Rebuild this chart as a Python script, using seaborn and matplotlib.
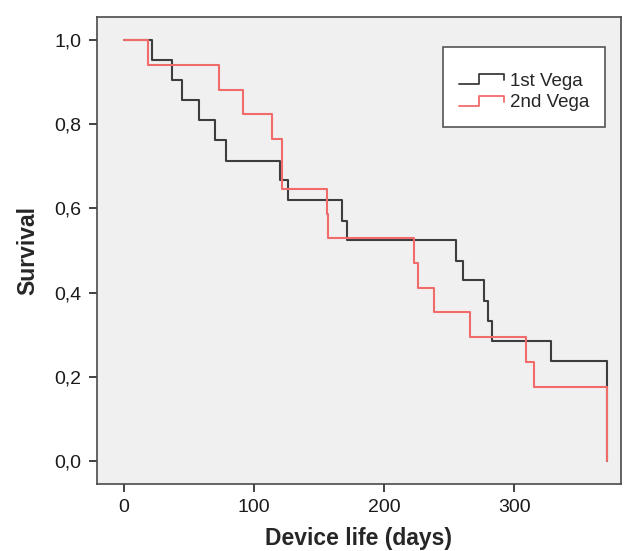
import numpy as np
import pandas as pd
import seaborn as sns
import matplotlib.pyplot as plt
from matplotlib.lines import Line2D
from matplotlib.legend_handler import HandlerBase
from matplotlib.ticker import FuncFormatter

# Kaplan-Meier steps (days, survival)
black_days = [0, 22, 37, 45, 58, 70, 78.5, 120, 126, 167.5, 171.5, 255.5, 261, 276.5, 280, 283, 328, 371.5]
black_surv = [1.0, 0.952, 0.905, 0.857, 0.810, 0.762, 0.714, 0.667, 0.619, 0.571, 0.524, 0.476, 0.429, 0.381, 0.333, 0.286, 0.238, 0.0]

red_days = [0, 19, 73, 91.5, 114, 121.5, 156, 157, 223, 226, 238.5, 266, 309, 315, 371.5]
red_surv = [1.0, 0.941, 0.882, 0.824, 0.765, 0.647, 0.588, 0.529, 0.471, 0.412, 0.353, 0.294, 0.235, 0.176, 0.0]

groups = ["1st Vega", "2nd Vega"]
colors = {"1st Vega": "#3d3d3d", "2nd Vega": "#f26b6b"}

df = pd.concat([
    pd.DataFrame({"days": black_days, "survival": black_surv, "group": groups[0]}),
    pd.DataFrame({"days": red_days, "survival": red_surv, "group": groups[1]}),
], ignore_index=True)

sns.set_style("white")
plt.rcParams["font.family"] = ["Liberation Sans", "DejaVu Sans"]

fig = plt.figure(figsize=(6.31, 5.51), dpi=100)
ax = fig.add_axes([0.1537, 0.1216, 0.8303, 0.8474])
ax.set_facecolor("#f0f0f0")

sns.lineplot(data=df, x="days", y="survival", hue="group", hue_order=groups,
             palette=colors, estimator=None, drawstyle="steps-post",
             linewidth=1.5, legend=False, ax=ax)

ax.set_xlim(-20.5, 382)
ax.set_ylim(-0.055, 1.055)
ax.set_xticks([0, 100, 200, 300])
ax.set_yticks([0, 0.2, 0.4, 0.6, 0.8, 1.0])
ax.yaxis.set_major_formatter(FuncFormatter(lambda v, p: f"{v:.1f}".replace(".", ",")))

for s in ax.spines.values():
    s.set_color("#4a4a4a")
    s.set_linewidth(1.2)
ax.tick_params(direction="out", length=6, width=1.3, color="#333333",
               labelsize=14, labelcolor="#1a1a1a", pad=5,
               left=True, bottom=True)

ax.set_xlabel("Device life (days)", fontsize=16.5, fontweight="bold", labelpad=8)
ax.set_ylabel("Survival", fontsize=16.5, fontweight="bold", labelpad=11)


class StepHandler(HandlerBase):
    # SPSS-style little step icon in the legend
    def create_artists(self, legend, orig_handle, xdescent, ydescent,
                       width, height, fontsize, trans):
        xs = np.array([0, 0.45, 0.45, 1.0, 1.0]) * width - xdescent
        ys = np.array([0.1, 0.1, 0.85, 0.85, 0.4]) * height - ydescent
        ln = Line2D(xs, ys, color=orig_handle.get_color(), lw=1.3, transform=trans)
        return [ln]


handles = [Line2D([], [], color=colors[g]) for g in groups]
# blank title just pushes the entries a bit lower in the box, like SPSS does
leg = ax.legend(handles, groups, handler_map={Line2D: StepHandler()},
                loc="upper right", bbox_to_anchor=(0.97, 0.935),
                title=" ", title_fontsize=4,
                fontsize=13.5, frameon=True, fancybox=False,
                borderpad=0.85, handlelength=2.4, handletextpad=0.3,
                labelspacing=0.22, borderaxespad=0)
leg.get_frame().set_edgecolor("#555555")
leg.get_frame().set_linewidth(1.2)
leg.get_frame().set_facecolor("white")
leg.get_frame().set_alpha(1)

plt.savefig("out.png", dpi=100)
